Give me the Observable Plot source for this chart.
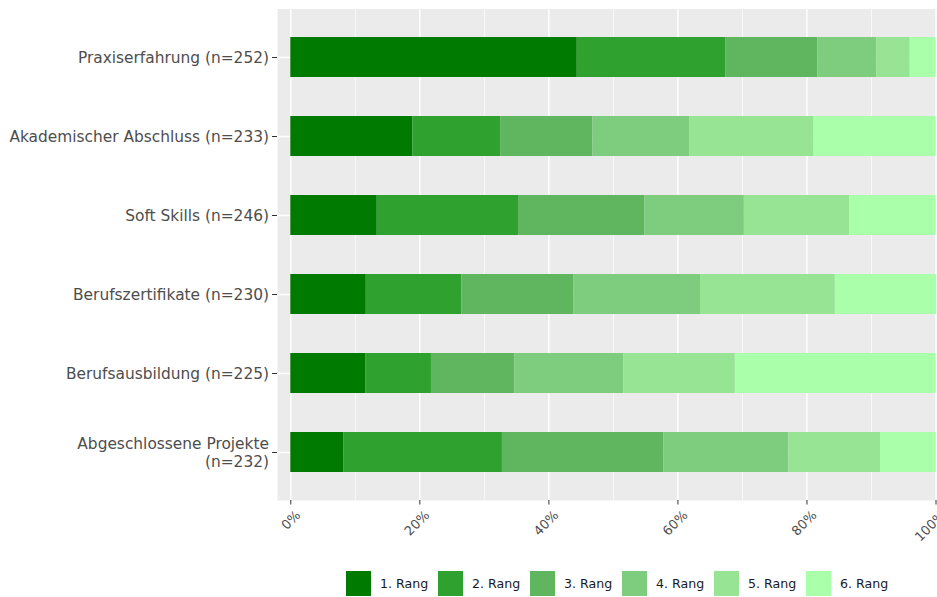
<!DOCTYPE html>
<html>
<head>
<meta charset="utf-8">
<script src="https://cdn.jsdelivr.net/npm/d3@7"></script>
<script src="https://cdn.jsdelivr.net/npm/@observablehq/plot@0.6"></script>
<style>
  html, body { margin: 0; padding: 0; background: #fff; }
  body { width: 937px; height: 597px; overflow: hidden; font-family: "DejaVu Sans", sans-serif; }
  #legend { display: flex; height: 47px; align-items: flex-start; padding-left: 346px; box-sizing: border-box; padding-top: 21px; }
  .item { display: flex; align-items: center; width: 92px; flex: none; }
  .key { width: 25px; height: 25px; flex: none; margin-right: 9px; }
  .lab { font-size: 12.6px; color: #1a1a1a; white-space: nowrap; }
</style>
</head>
<body>
<div id="chart"></div>
<div id="legend"></div>
<script>
// Categories (top to bottom) and sample sizes
const categories = ["Praxiserfahrung", "Akademischer Abschluss", "Soft Skills", "Berufszertifikate", "Berufsausbildung", "Abgeschlossene Projekte"];
const nValues = [252, 233, 246, 230, 225, 232];
const ranks = ["1. Rang", "2. Rang", "3. Rang", "4. Rang", "5. Rang", "6. Rang"];
// Share per rank (%), one array per rank, ordered like categories
const rank1 = [44.4, 18.9, 13.4, 11.7, 11.6, 8.2];
const rank2 = [23.0, 13.7, 22.0, 14.8, 10.2, 24.6];
const rank3 = [14.3, 14.2, 19.5, 17.4, 12.9, 25.0];
const rank4 = [9.1, 15.0, 15.4, 19.6, 16.9, 19.4];
const rank5 = [5.2, 19.3, 16.3, 20.9, 17.3, 14.2];
const rank6 = [4.0, 18.9, 13.4, 15.7, 31.1, 8.6];
const xTicks = [0, 20, 40, 60, 80, 100];
const xMinorTicks = [10, 30, 50, 70, 90];
const palette = ["#007A00", "#2FA12F", "#5FB65F", "#7ECD7E", "#97E594", "#AAFFAA"];

const seriesByRank = [rank1, rank2, rank3, rank4, rank5, rank6];
const labels = categories.map((c, i) => c === "Abgeschlossene Projekte" ? `${c}\n(n=${nValues[i]})` : `${c} (n=${nValues[i]})`);
const rows = [];
ranks.forEach((r, ri) => {
  categories.forEach((c, ci) => {
    rows.push({cat: labels[ci], rank: r, value: seriesByRank[ri][ci]});
  });
});

const font = "DejaVu Sans, sans-serif";
const chart = Plot.plot({
  width: 937,
  height: 550,
  marginLeft: 277,
  marginRight: 0,
  marginTop: 8.5,
  marginBottom: 50,
  style: {fontFamily: font, background: "#fff"},
  x: {domain: [0, 100], range: [290.3, 935.5], axis: null},
  y: {domain: labels, paddingInner: 0.5, paddingOuter: 0.35, axis: null},
  color: {domain: ranks, range: palette},
  marks: [
    Plot.frame({fill: "#EBEBEB", stroke: null}),
    Plot.gridX(xMinorTicks, {stroke: "#fff", strokeWidth: 0.7, strokeOpacity: 1}),
    Plot.gridX(xTicks, {stroke: "#fff", strokeWidth: 1.4, strokeOpacity: 1}),
    Plot.gridY(labels, {stroke: "#fff", strokeWidth: 1.4, strokeOpacity: 1}),
    Plot.barX(rows, Plot.stackX({x: "value", y: "cat", fill: "rank", inset: 0, order: null})),
    Plot.axisY({
      fontSize: 15.4, tickSize: 5, tickPadding: 3.5, stroke: "#333", fill: "#4D4D4D",
      textAnchor: "end", lineHeight: 1.13, label: null
    }),
    // tick marks only
    Plot.axisX(xTicks, {
      tickFormat: () => "", tickSize: 4.5, stroke: "#333", label: null
    }),
    // rotated tick labels only
    Plot.axisX(xTicks, {
      tickFormat: d => d + "%", tickRotate: -45, tickSize: 0, tickPadding: 12.5,
      dx: 7.5, fontSize: 13, fill: "#4D4D4D", label: null
    })
  ]
});
document.getElementById("chart").appendChild(chart);

const legend = document.getElementById("legend");
ranks.forEach((r, i) => {
  const item = document.createElement("div");
  item.className = "item";
  const key = document.createElement("div");
  key.className = "key";
  key.style.background = palette[i];
  const lab = document.createElement("span");
  lab.className = "lab";
  lab.textContent = r;
  item.appendChild(key);
  item.appendChild(lab);
  legend.appendChild(item);
});
</script>
</body>
</html>
